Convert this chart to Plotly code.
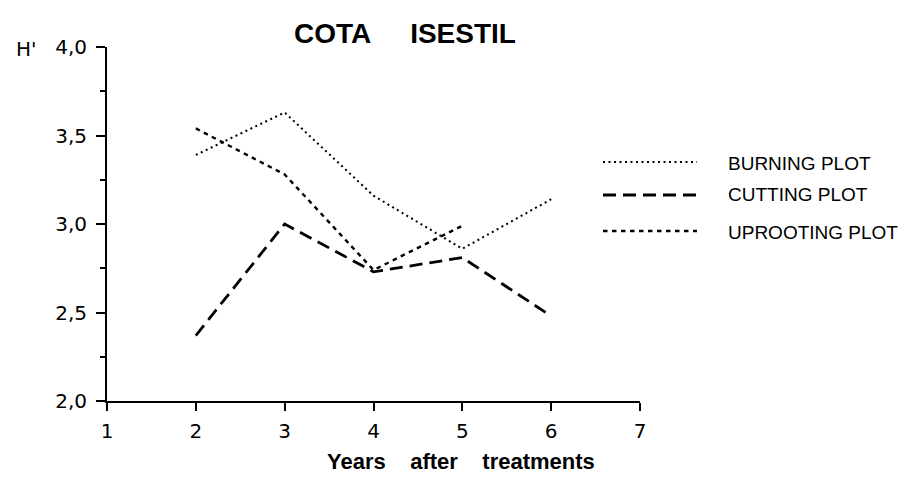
import plotly.graph_objects as go

years = [2, 3, 4, 5, 6]
burning = [3.39, 3.63, 3.16, 2.86, 3.14]
cutting = [2.37, 3.00, 2.73, 2.81, 2.48]
uprooting_years = [2, 3, 4, 5]
uprooting = [3.54, 3.28, 2.74, 2.99]

series_names = ["BURNING PLOT", "CUTTING PLOT", "UPROOTING PLOT"]
x_ticks = [1, 2, 3, 4, 5, 6, 7]
y_ticks = [2.0, 2.5, 3.0, 3.5, 4.0]

styles = [
    dict(width=2.0, dash="2px,3.5px"),
    dict(width=2.8, dash="13px,7px"),
    dict(width=2.4, dash="4.5px,4.5px"),
]

FONT = "Liberation Sans, Arial, sans-serif"
TFONT = "DejaVu Sans, sans-serif"

# page geometry (the page body adds an 8px offset)
OFF = 8
PX0, PX1 = 107, 640   # x=1 .. x=7 in page pixels
PY0, PY1 = 47, 401    # y=4 .. y=2 in page pixels
W, H = 907 - OFF, 477 - OFF
L, T = PX0 - OFF, PY0 - OFF
R = W - (PX1 - OFF)
B = H - (PY1 - OFF)


def px_x(p):
    return (p - PX0) / (PX1 - PX0)


def px_y(p):
    return (PY1 - p) / (PY1 - PY0)


fig = go.Figure()
for xs, ys, name, st in zip([years, years, uprooting_years],
                            [burning, cutting, uprooting], series_names, styles):
    fig.add_trace(go.Scatter(x=xs, y=ys, mode="lines", name=name,
                             line=dict(color="black", **st), showlegend=False))

shapes = []
annotations = []
rows_y = [162, 195, 231]
text_y = [163, 194, 232]
for name, st, ry, ty in zip(series_names, styles, rows_y, text_y):
    shapes.append(dict(type="line", xref="paper", yref="paper",
                       x0=px_x(603), x1=px_x(697), y0=px_y(ry), y1=px_y(ry),
                       line=dict(color="black", **st)))
    annotations.append(dict(text=name, xref="paper", yref="paper",
                            x=px_x(726), y=px_y(ty), xanchor="left", yanchor="middle",
                            showarrow=False, font=dict(family=FONT, size=19, color="black")))

annotations.append(dict(text="H'", xref="paper", yref="paper", x=px_x(26), y=px_y(49),
                        xanchor="center", yanchor="middle", showarrow=False,
                        font=dict(family=TFONT, size=20, color="black")))
annotations.append(dict(text="<b>COTA&nbsp;&nbsp;&nbsp;&nbsp;&nbsp;ISESTIL</b>", xref="paper", yref="paper",
                        x=px_x(405), y=px_y(34), xanchor="center", yanchor="middle",
                        showarrow=False, font=dict(family=FONT, size=28, color="black")))
annotations.append(dict(text="<b>Years&nbsp;&nbsp;&nbsp;&nbsp;after&nbsp;&nbsp;&nbsp;&nbsp;treatments</b>",
                        xref="paper", yref="paper", x=px_x(461), y=px_y(461),
                        xanchor="center", yanchor="middle", showarrow=False,
                        font=dict(family=FONT, size=22, color="black")))

fig.update_layout(
    width=W, height=H,
    margin=dict(l=L, r=R, t=T, b=B, pad=0),
    paper_bgcolor="white", plot_bgcolor="white",
    separators=",.",
    shapes=shapes, annotations=annotations,
    xaxis=dict(range=[1, 7], tickvals=x_ticks, showgrid=False, zeroline=False,
               showline=True, linecolor="black", linewidth=2,
               ticks="outside", ticklen=8, tickwidth=2, tickcolor="black",
               ticklabelstandoff=3,
               tickfont=dict(family=TFONT, size=20, color="black")),
    yaxis=dict(range=[2, 4], tickvals=y_ticks, tickformat=".1f", showgrid=False,
               zeroline=False, showline=True, linecolor="black", linewidth=2,
               ticks="outside", ticklen=9, tickwidth=2, tickcolor="black",
               ticklabelstandoff=5,
               tickfont=dict(family=TFONT, size=20, color="black"),
               minor=dict(dtick=0.25, tick0=2, ticks="outside", ticklen=5,
                          tickwidth=2, tickcolor="black", showgrid=False)),
)

fig.write_html("out.html")
